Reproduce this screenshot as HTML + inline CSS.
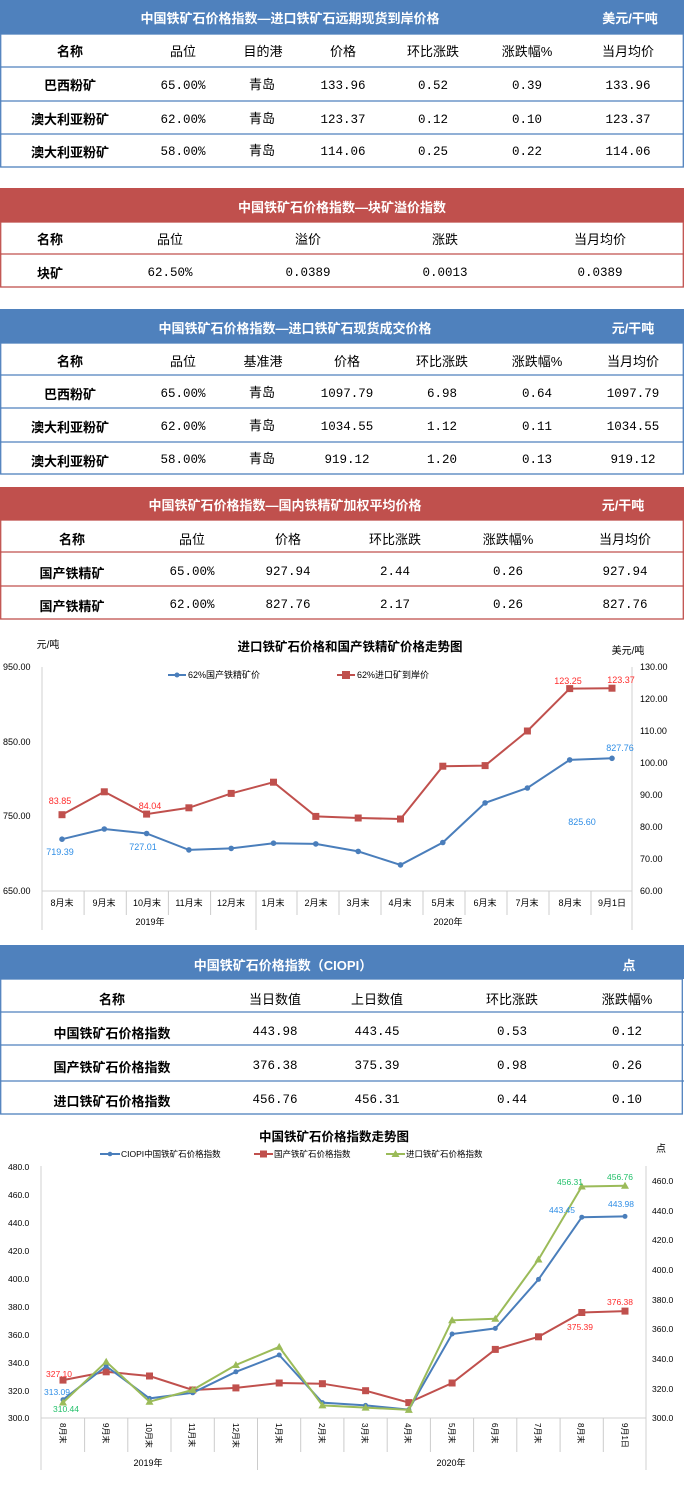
<!DOCTYPE html>
<html><head><meta charset="utf-8"><style>
html,body{margin:0;padding:0;background:#fff}
svg{display:block}
text{font-family:"Liberation Sans","Noto Sans CJK SC",sans-serif}
.ht{fill:#fff;font-weight:bold;font-size:13px}
.h{font-size:13px;fill:#000}
.n{font-size:13px;font-weight:bold;fill:#000}
.d{font-family:"Liberation Mono","Noto Sans CJK SC",monospace;font-size:12.5px;fill:#000}
.t{font-size:9px;fill:#000}
.tk{font-size:9px;fill:#000}
</style></head><body>
<svg width="684" height="1487" viewBox="0 0 684 1487" xmlns="http://www.w3.org/2000/svg" text-anchor="middle">
<!-- Table 1 -->
<rect x="0" y="0" width="684" height="34" fill="#4f81bd"/>
<text class="ht" x="290" y="23">中国铁矿石价格指数—进口铁矿石远期现货到岸价格</text>
<text class="ht" x="630" y="23">美元/干吨</text>
<g fill="none" stroke="#4f81bd" stroke-width="1.3">
<rect x="0.7" y="34" width="682.6" height="133"/>
<line x1="0" y1="67" x2="684" y2="67"/><line x1="0" y1="101" x2="684" y2="101"/><line x1="0" y1="134" x2="684" y2="134"/>
</g>
<g class="h"><text x="70" y="56" class="n">名称</text><text x="183" y="56">品位</text><text x="263" y="56">目的港</text><text x="343" y="56">价格</text><text x="433" y="56">环比涨跌</text><text x="527" y="56">涨跌幅%</text><text x="628" y="56">当月均价</text></g>
<g><text class="n" x="70" y="90">巴西粉矿</text><text class="d" x="183" y="89">65.00%</text><text class="h" x="262" y="89">青岛</text><text class="d" x="343" y="89">133.96</text><text class="d" x="433" y="89">0.52</text><text class="d" x="527" y="89">0.39</text><text class="d" x="628" y="89">133.96</text></g>
<g><text class="n" x="70" y="124">澳大利亚粉矿</text><text class="d" x="183" y="123">62.00%</text><text class="h" x="262" y="123">青岛</text><text class="d" x="343" y="123">123.37</text><text class="d" x="433" y="123">0.12</text><text class="d" x="527" y="123">0.10</text><text class="d" x="628" y="123">123.37</text></g>
<g><text class="n" x="70" y="157">澳大利亚粉矿</text><text class="d" x="183" y="155">58.00%</text><text class="h" x="262" y="155">青岛</text><text class="d" x="343" y="155">114.06</text><text class="d" x="433" y="155">0.25</text><text class="d" x="527" y="155">0.22</text><text class="d" x="628" y="155">114.06</text></g>

<!-- Table 2 -->
<rect x="0" y="188" width="684" height="34" fill="#c0504d"/>
<text class="ht" x="342" y="212">中国铁矿石价格指数—块矿溢价指数</text>
<g fill="none" stroke="#c0504d" stroke-width="1.3">
<rect x="0.7" y="222" width="682.6" height="65"/><line x1="0" y1="254" x2="684" y2="254"/>
</g>
<g class="h"><text class="n" x="50" y="244">名称</text><text x="170" y="244">品位</text><text x="308" y="244">溢价</text><text x="445" y="244">涨跌</text><text x="600" y="244">当月均价</text></g>
<g><text class="n" x="50" y="278">块矿</text><text class="d" x="170" y="276">62.50%</text><text class="d" x="308" y="276">0.0389</text><text class="d" x="445" y="276">0.0013</text><text class="d" x="600" y="276">0.0389</text></g>

<!-- Table 3 -->
<rect x="0" y="309" width="684" height="34" fill="#4f81bd"/>
<text class="ht" x="295" y="333">中国铁矿石价格指数—进口铁矿石现货成交价格</text>
<text class="ht" x="633" y="333">元/干吨</text>
<g fill="none" stroke="#4f81bd" stroke-width="1.3">
<rect x="0.7" y="343" width="682.6" height="131"/>
<line x1="0" y1="375" x2="684" y2="375"/><line x1="0" y1="408" x2="684" y2="408"/><line x1="0" y1="442" x2="684" y2="442"/>
</g>
<g class="h"><text class="n" x="70" y="366">名称</text><text x="183" y="366">品位</text><text x="263" y="366">基准港</text><text x="347" y="366">价格</text><text x="442" y="366">环比涨跌</text><text x="537" y="366">涨跌幅%</text><text x="633" y="366">当月均价</text></g>
<g><text class="n" x="70" y="399">巴西粉矿</text><text class="d" x="183" y="397">65.00%</text><text class="h" x="262" y="397">青岛</text><text class="d" x="347" y="397">1097.79</text><text class="d" x="442" y="397">6.98</text><text class="d" x="537" y="397">0.64</text><text class="d" x="633" y="397">1097.79</text></g>
<g><text class="n" x="70" y="432">澳大利亚粉矿</text><text class="d" x="183" y="430">62.00%</text><text class="h" x="262" y="430">青岛</text><text class="d" x="347" y="430">1034.55</text><text class="d" x="442" y="430">1.12</text><text class="d" x="537" y="430">0.11</text><text class="d" x="633" y="430">1034.55</text></g>
<g><text class="n" x="70" y="466">澳大利亚粉矿</text><text class="d" x="183" y="463">58.00%</text><text class="h" x="262" y="463">青岛</text><text class="d" x="347" y="463">919.12</text><text class="d" x="442" y="463">1.20</text><text class="d" x="537" y="463">0.13</text><text class="d" x="633" y="463">919.12</text></g>

<!-- Table 4 -->
<rect x="0" y="487" width="684" height="33" fill="#c0504d"/>
<text class="ht" x="285" y="510">中国铁矿石价格指数—国内铁精矿加权平均价格</text>
<text class="ht" x="623" y="510">元/干吨</text>
<g fill="none" stroke="#c0504d" stroke-width="1.3">
<rect x="0.7" y="520" width="682.6" height="99"/><line x1="0" y1="552" x2="684" y2="552"/><line x1="0" y1="586" x2="684" y2="586"/>
</g>
<g class="h"><text class="n" x="72" y="544">名称</text><text x="192" y="544">品位</text><text x="288" y="544">价格</text><text x="395" y="544">环比涨跌</text><text x="508" y="544">涨跌幅%</text><text x="625" y="544">当月均价</text></g>
<g><text class="n" x="72" y="578">国产铁精矿</text><text class="d" x="192" y="575">65.00%</text><text class="d" x="288" y="575">927.94</text><text class="d" x="395" y="575">2.44</text><text class="d" x="508" y="575">0.26</text><text class="d" x="625" y="575">927.94</text></g>
<g><text class="n" x="72" y="611">国产铁精矿</text><text class="d" x="192" y="608">62.00%</text><text class="d" x="288" y="608">827.76</text><text class="d" x="395" y="608">2.17</text><text class="d" x="508" y="608">0.26</text><text class="d" x="625" y="608">827.76</text></g>

<!-- Chart 1 -->
<text x="48" y="648" style="font-size:10px">元/吨</text>
<text x="350" y="651" style="font-size:12.5px;font-weight:bold">进口铁矿石价格和国产铁精矿价格走势图</text>
<text x="628" y="654" style="font-size:10px">美元/吨</text>
<line x1="168" y1="675" x2="186" y2="675" stroke="#4a7ebb" stroke-width="2"/><circle cx="177" cy="675" r="2.5" fill="#4a7ebb"/>
<text x="188" y="678" text-anchor="start" class="t">62%国产铁精矿价</text>
<line x1="337" y1="675" x2="355" y2="675" stroke="#c0504d" stroke-width="2"/><rect x="342" y="671" width="8" height="8" fill="#c0504d"/>
<text x="357" y="678" text-anchor="start" class="t">62%进口矿到岸价</text>
<g stroke="#d0d0d0" stroke-width="1" fill="none">
<line x1="42" y1="667" x2="42" y2="930"/><line x1="632" y1="667" x2="632" y2="930"/>
<line x1="42" y1="891" x2="632" y2="891"/>
</g>
<g stroke="#ccc" stroke-width="1">
<line x1="84.1" y1="891" x2="84.1" y2="915"/><line x1="126.3" y1="891" x2="126.3" y2="915"/><line x1="168.4" y1="891" x2="168.4" y2="915"/><line x1="210.6" y1="891" x2="210.6" y2="915"/><line x1="256" y1="891" x2="256" y2="930"/><line x1="297" y1="891" x2="297" y2="915"/><line x1="339" y1="891" x2="339" y2="915"/><line x1="381" y1="891" x2="381" y2="915"/><line x1="423" y1="891" x2="423" y2="915"/><line x1="465" y1="891" x2="465" y2="915"/><line x1="507" y1="891" x2="507" y2="915"/><line x1="549" y1="891" x2="549" y2="915"/><line x1="591" y1="891" x2="591" y2="915"/>
</g>
<g class="tk" text-anchor="start">
<text x="3" y="670">950.00</text><text x="3" y="745">850.00</text><text x="3" y="819">750.00</text><text x="3" y="894">650.00</text>
<text x="640" y="670">130.00</text><text x="640" y="702">120.00</text><text x="640" y="734">110.00</text><text x="640" y="766">100.00</text><text x="640" y="798">90.00</text><text x="640" y="830">80.00</text><text x="640" y="862">70.00</text><text x="640" y="894">60.00</text>
</g>
<g class="tk">
<text x="62" y="906">8月末</text><text x="104" y="906">9月末</text><text x="147" y="906">10月末</text><text x="189" y="906">11月末</text><text x="231" y="906">12月末</text><text x="273" y="906">1月末</text><text x="316" y="906">2月末</text><text x="358" y="906">3月末</text><text x="400" y="906">4月末</text><text x="443" y="906">5月末</text><text x="485" y="906">6月末</text><text x="527" y="906">7月末</text><text x="570" y="906">8月末</text><text x="612" y="906">9月1日</text>
<text x="150" y="925">2019年</text><text x="448" y="925">2020年</text>
</g>
<polyline fill="none" stroke="#4a7ebb" stroke-width="2" points="62,839.2 104.3,829 146.6,833.5 188.9,849.9 231.2,848.4 273.5,843.2 315.8,843.9 358.2,851.4 400.5,864.9 442.8,842.5 485.1,802.9 527.4,788 569.7,759.9 612,758.3"/>
<g fill="#4a7ebb"><circle cx="62" cy="839.2" r="2.8"/><circle cx="104.3" cy="829" r="2.8"/><circle cx="146.6" cy="833.5" r="2.8"/><circle cx="188.9" cy="849.9" r="2.8"/><circle cx="231.2" cy="848.4" r="2.8"/><circle cx="273.5" cy="843.2" r="2.8"/><circle cx="315.8" cy="843.9" r="2.8"/><circle cx="358.2" cy="851.4" r="2.8"/><circle cx="400.5" cy="864.9" r="2.8"/><circle cx="442.8" cy="842.5" r="2.8"/><circle cx="485.1" cy="802.9" r="2.8"/><circle cx="527.4" cy="788" r="2.8"/><circle cx="569.7" cy="759.9" r="2.8"/><circle cx="612" cy="758.3" r="2.8"/></g>
<polyline fill="none" stroke="#c0504d" stroke-width="2" points="62,814.7 104.3,791.8 146.6,814.1 188.9,807.8 231.2,793.4 273.5,782.2 315.8,816.4 358.2,818 400.5,819 442.8,766.2 485.1,765.6 527.4,731 569.7,688.6 612,688.2"/>
<g fill="#c0504d"><rect x="58.5" y="811.2" width="7" height="7"/><rect x="100.8" y="788.3" width="7" height="7"/><rect x="143.1" y="810.6" width="7" height="7"/><rect x="185.4" y="804.3" width="7" height="7"/><rect x="227.7" y="789.9" width="7" height="7"/><rect x="270" y="778.7" width="7" height="7"/><rect x="312.3" y="812.9" width="7" height="7"/><rect x="354.7" y="814.5" width="7" height="7"/><rect x="397" y="815.5" width="7" height="7"/><rect x="439.3" y="762.7" width="7" height="7"/><rect x="481.6" y="762.1" width="7" height="7"/><rect x="523.9" y="727.5" width="7" height="7"/><rect x="566.2" y="685.1" width="7" height="7"/><rect x="608.5" y="684.7" width="7" height="7"/></g>
<g class="tk">
<text x="60" y="804" fill="#ff2b2b">83.85</text><text x="150" y="809" fill="#ff2b2b">84.04</text><text x="568" y="684" fill="#ff2b2b">123.25</text><text x="621" y="683" fill="#ff2b2b">123.37</text>
<text x="60" y="855" fill="#2f8ee6">719.39</text><text x="143" y="850" fill="#2f8ee6">727.01</text><text x="582" y="825" fill="#2f8ee6">825.60</text><text x="620" y="751" fill="#2f8ee6">827.76</text>
</g>

<!-- Table 5 -->
<rect x="0" y="945" width="684" height="34" fill="#4f81bd"/>
<text class="ht" x="283" y="970">中国铁矿石价格指数（CIOPI）</text>
<text class="ht" x="629" y="970">点</text>
<g fill="none" stroke="#4f81bd" stroke-width="1.3">
<rect x="0.7" y="979" width="681.6" height="135"/>
<line x1="0" y1="1012" x2="684" y2="1012"/><line x1="0" y1="1045" x2="684" y2="1045"/><line x1="0" y1="1081" x2="684" y2="1081"/>
</g>
<g class="h"><text class="n" x="112" y="1004">名称</text><text x="275" y="1004">当日数值</text><text x="377" y="1004">上日数值</text><text x="512" y="1004">环比涨跌</text><text x="627" y="1004">涨跌幅%</text></g>
<g><text class="n" x="112" y="1038">中国铁矿石价格指数</text><text class="d" x="275" y="1035">443.98</text><text class="d" x="377" y="1035">443.45</text><text class="d" x="512" y="1035">0.53</text><text class="d" x="627" y="1035">0.12</text></g>
<g><text class="n" x="112" y="1072">国产铁矿石价格指数</text><text class="d" x="275" y="1069">376.38</text><text class="d" x="377" y="1069">375.39</text><text class="d" x="512" y="1069">0.98</text><text class="d" x="627" y="1069">0.26</text></g>
<g><text class="n" x="112" y="1106">进口铁矿石价格指数</text><text class="d" x="275" y="1103">456.76</text><text class="d" x="377" y="1103">456.31</text><text class="d" x="512" y="1103">0.44</text><text class="d" x="627" y="1103">0.10</text></g>

<!-- Chart 2 -->
<text x="334" y="1141" style="font-size:12.5px;font-weight:bold">中国铁矿石价格指数走势图</text>
<text x="661" y="1152" style="font-size:10px">点</text>
<line x1="100" y1="1154" x2="120" y2="1154" stroke="#4a7ebb" stroke-width="2"/><circle cx="110" cy="1154" r="2.3" fill="#4a7ebb"/>
<text x="121" y="1157" text-anchor="start" class="t" style="font-size:8.5px">CIOPI中国铁矿石价格指数</text>
<line x1="254" y1="1154" x2="273" y2="1154" stroke="#c0504d" stroke-width="2"/><rect x="260" y="1150.5" width="7" height="7" fill="#c0504d"/>
<text x="274" y="1157" text-anchor="start" class="t" style="font-size:8.5px">国产铁矿石价格指数</text>
<line x1="386" y1="1154" x2="405" y2="1154" stroke="#9bbb59" stroke-width="2"/><polygon points="395.5,1150 399.5,1157 391.5,1157" fill="#9bbb59"/>
<text x="406" y="1157" text-anchor="start" class="t" style="font-size:8.5px">进口铁矿石价格指数</text>
<g stroke="#d0d0d0" stroke-width="1" fill="none">
<line x1="41" y1="1166" x2="41" y2="1470"/><line x1="646" y1="1166" x2="646" y2="1470"/>
<line x1="41" y1="1418" x2="646" y2="1418"/>
</g>
<g stroke="#ccc" stroke-width="1">
<line x1="84.6" y1="1418" x2="84.6" y2="1452"/><line x1="127.8" y1="1418" x2="127.8" y2="1452"/><line x1="171" y1="1418" x2="171" y2="1452"/><line x1="214.3" y1="1418" x2="214.3" y2="1452"/><line x1="257.5" y1="1418" x2="257.5" y2="1470"/><line x1="300.7" y1="1418" x2="300.7" y2="1452"/><line x1="343.9" y1="1418" x2="343.9" y2="1452"/><line x1="387.2" y1="1418" x2="387.2" y2="1452"/><line x1="430.4" y1="1418" x2="430.4" y2="1452"/><line x1="473.6" y1="1418" x2="473.6" y2="1452"/><line x1="516.8" y1="1418" x2="516.8" y2="1452"/><line x1="560.1" y1="1418" x2="560.1" y2="1452"/><line x1="603.3" y1="1418" x2="603.3" y2="1452"/>
</g>
<g class="tk" text-anchor="start" style="font-size:8.5px">
<text x="8" y="1170">480.0</text><text x="8" y="1198">460.0</text><text x="8" y="1226">440.0</text><text x="8" y="1254">420.0</text><text x="8" y="1282">400.0</text><text x="8" y="1310">380.0</text><text x="8" y="1338">360.0</text><text x="8" y="1366">340.0</text><text x="8" y="1394">320.0</text><text x="8" y="1421">300.0</text>
<text x="652" y="1184">460.0</text><text x="652" y="1214">440.0</text><text x="652" y="1243">420.0</text><text x="652" y="1273">400.0</text><text x="652" y="1303">380.0</text><text x="652" y="1332">360.0</text><text x="652" y="1362">340.0</text><text x="652" y="1392">320.0</text><text x="652" y="1421">300.0</text>
</g>
<g class="tk" text-anchor="start" style="font-size:8px">
<text transform="translate(60,1423) rotate(90)">8月末</text><text transform="translate(103,1423) rotate(90)">9月末</text><text transform="translate(146,1423) rotate(90)">10月末</text><text transform="translate(189,1423) rotate(90)">11月末</text><text transform="translate(233,1423) rotate(90)">12月末</text><text transform="translate(276,1423) rotate(90)">1月末</text><text transform="translate(319,1423) rotate(90)">2月末</text><text transform="translate(362,1423) rotate(90)">3月末</text><text transform="translate(405,1423) rotate(90)">4月末</text><text transform="translate(449,1423) rotate(90)">5月末</text><text transform="translate(492,1423) rotate(90)">6月末</text><text transform="translate(535,1423) rotate(90)">7月末</text><text transform="translate(578,1423) rotate(90)">8月末</text><text transform="translate(622,1423) rotate(90)">9月1日</text>
</g>
<g class="tk"><text x="148" y="1466">2019年</text><text x="451" y="1466">2020年</text></g>
<polyline fill="none" stroke="#c0504d" stroke-width="2" points="63,1380.1 106.2,1371.8 149.5,1376 192.7,1390 235.9,1387.9 279.2,1383 322.4,1383.7 365.6,1390.7 408.8,1402.6 452.1,1383 495.3,1349.4 538.5,1336.8 581.8,1312.5 625,1311.1"/>
<g fill="#c0504d"><rect x="59.5" y="1376.6" width="7" height="7"/><rect x="102.7" y="1368.3" width="7" height="7"/><rect x="146" y="1372.5" width="7" height="7"/><rect x="189.2" y="1386.5" width="7" height="7"/><rect x="232.4" y="1384.4" width="7" height="7"/><rect x="275.7" y="1379.5" width="7" height="7"/><rect x="318.9" y="1380.2" width="7" height="7"/><rect x="362.1" y="1387.2" width="7" height="7"/><rect x="405.3" y="1399.1" width="7" height="7"/><rect x="448.6" y="1379.5" width="7" height="7"/><rect x="491.8" y="1345.9" width="7" height="7"/><rect x="535" y="1333.3" width="7" height="7"/><rect x="578.3" y="1309" width="7" height="7"/><rect x="621.5" y="1307.6" width="7" height="7"/></g>
<polyline fill="none" stroke="#4a7ebb" stroke-width="2" points="63,1399.7 106.2,1366.2 149.5,1398.4 192.7,1392.8 235.9,1371.8 279.2,1355 322.4,1402.6 365.6,1405.4 408.8,1409.6 452.1,1334 495.3,1328.4 538.5,1279.4 581.8,1217.2 625,1216.4"/>
<g fill="#4a7ebb"><circle cx="63" cy="1399.7" r="2.5"/><circle cx="106.2" cy="1366.2" r="2.5"/><circle cx="149.5" cy="1398.4" r="2.5"/><circle cx="192.7" cy="1392.8" r="2.5"/><circle cx="235.9" cy="1371.8" r="2.5"/><circle cx="279.2" cy="1355" r="2.5"/><circle cx="322.4" cy="1402.6" r="2.5"/><circle cx="365.6" cy="1405.4" r="2.5"/><circle cx="408.8" cy="1409.6" r="2.5"/><circle cx="452.1" cy="1334" r="2.5"/><circle cx="495.3" cy="1328.4" r="2.5"/><circle cx="538.5" cy="1279.4" r="2.5"/><circle cx="581.8" cy="1217.2" r="2.5"/><circle cx="625" cy="1216.4" r="2.5"/></g>
<polyline fill="none" stroke="#9bbb59" stroke-width="2" points="63,1402.5 106.2,1361.7 149.5,1401.7 192.7,1389.9 235.9,1365 279.2,1346.9 322.4,1405.4 365.6,1407.6 408.8,1409.9 452.1,1320.3 495.3,1318.8 538.5,1259.5 581.8,1186.5 625,1185.8"/>
<g fill="#9bbb59"><polygon points="63,1398.5 67,1405.5 59,1405.5"/><polygon points="106.2,1357.7 110.2,1364.7 102.2,1364.7"/><polygon points="149.5,1397.7 153.5,1404.7 145.5,1404.7"/><polygon points="192.7,1385.9 196.7,1392.9 188.7,1392.9"/><polygon points="235.9,1361 239.9,1368 231.9,1368"/><polygon points="279.2,1342.9 283.2,1349.9 275.2,1349.9"/><polygon points="322.4,1401.4 326.4,1408.4 318.4,1408.4"/><polygon points="365.6,1403.6 369.6,1410.6 361.6,1410.6"/><polygon points="408.8,1405.9 412.8,1412.9 404.8,1412.9"/><polygon points="452.1,1316.3 456.1,1323.3 448.1,1323.3"/><polygon points="495.3,1314.8 499.3,1321.8 491.3,1321.8"/><polygon points="538.5,1255.5 542.5,1262.5 534.5,1262.5"/><polygon points="581.8,1182.5 585.8,1189.5 577.8,1189.5"/><polygon points="625,1181.8 629,1188.8 621,1188.8"/></g>
<g class="tk" style="font-size:8.5px">
<text x="59" y="1377" fill="#ff2b2b">327.10</text><text x="57" y="1395" fill="#2f8ee6">313.09</text><text x="66" y="1412" fill="#22c06a">310.44</text>
<text x="570" y="1185" fill="#22c06a">456.31</text><text x="620" y="1180" fill="#22c06a">456.76</text>
<text x="562" y="1213" fill="#2f8ee6">443.45</text><text x="621" y="1207" fill="#2f8ee6">443.98</text>
<text x="620" y="1305" fill="#ff2b2b">376.38</text><text x="580" y="1330" fill="#ff2b2b">375.39</text>
</g>
</svg>
</body></html>
